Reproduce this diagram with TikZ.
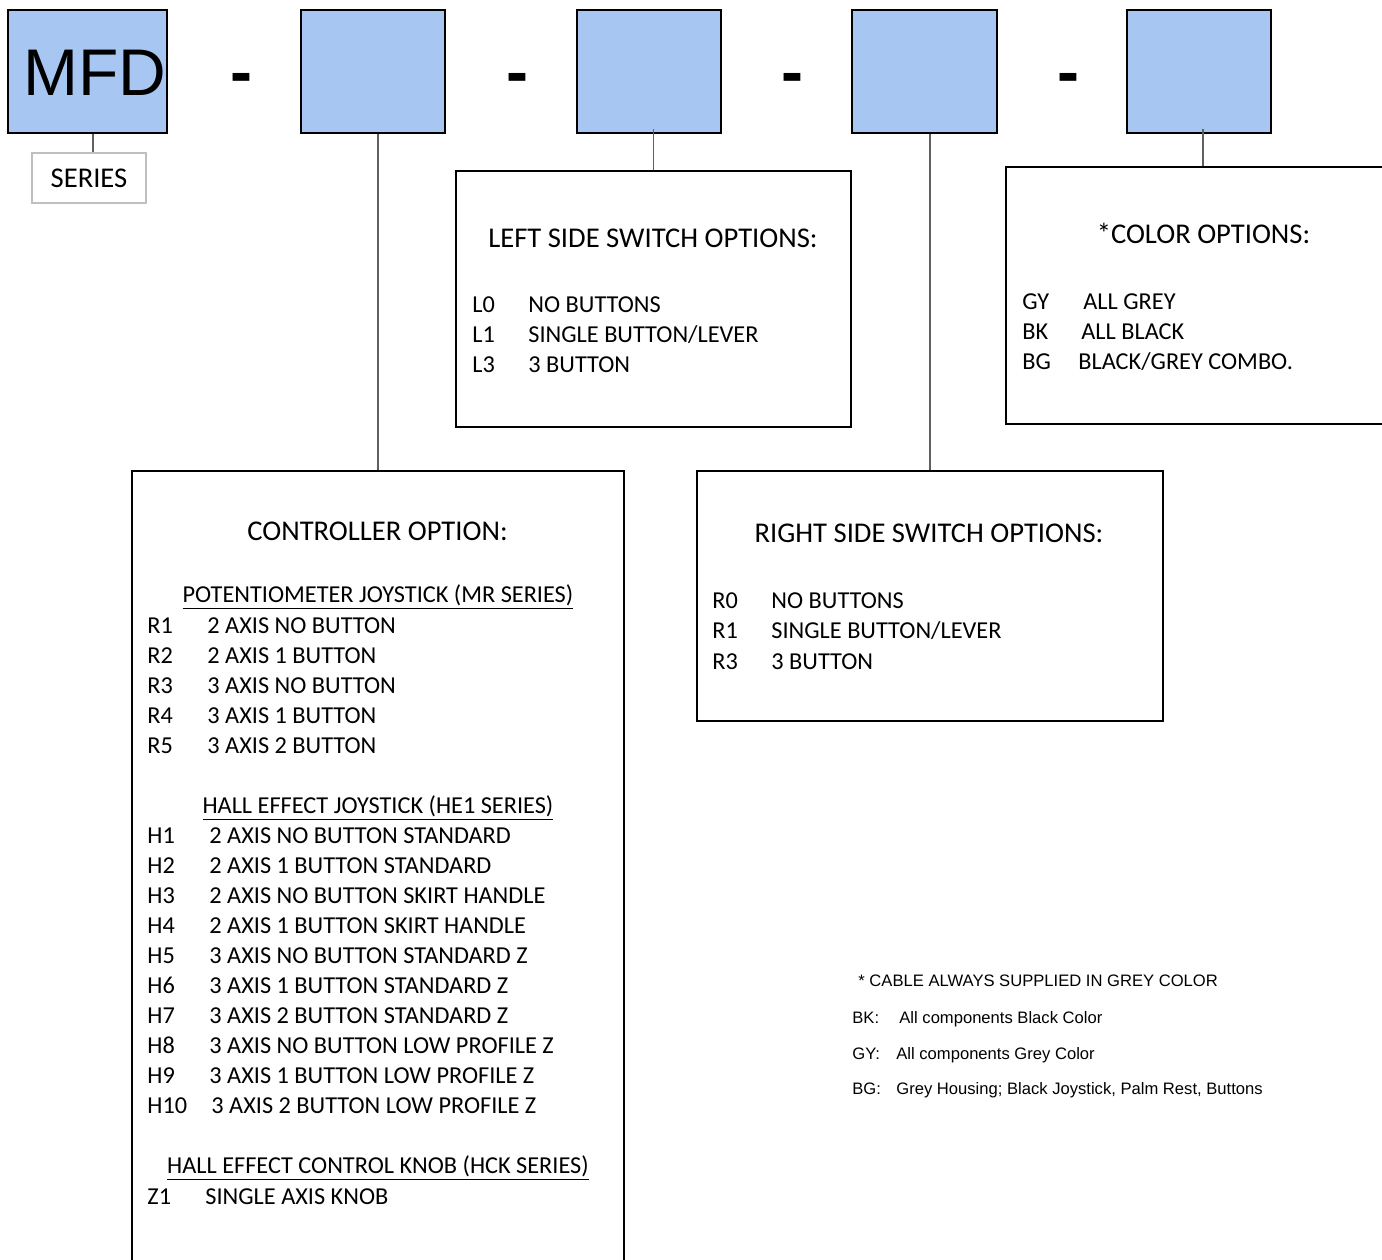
\documentclass[tikz,border=0pt]{standalone}
\usepackage{fontspec}
\setmainfont{Carlito}
\newfontfamily\arialfont{Liberation Sans}
\usetikzlibrary{calc}
\definecolor{boxblue}{RGB}{168,198,242}
\definecolor{linegrey}{RGB}{96,96,96}
\definecolor{seriesgrey}{RGB}{191,191,191}
\tikzset{
  partbox/.style={draw=black, line width=1pt, fill=boxblue, inner sep=0pt, minimum width=72pt, minimum height=61.5pt},
  optbox/.style={draw=black, line width=0.75pt, inner sep=0pt},
  link/.style={draw=linegrey, line width=0.75pt},
  boxhead/.style={font=\fontsize{14.3}{17}\selectfont, anchor=base, inner sep=0pt},
  subhead/.style={font=\fontsize{12.15}{14}\selectfont, anchor=base, inner sep=0pt},
  optline/.style={font=\fontsize{12.15}{14}\selectfont, anchor=base west, inner sep=0pt},
  dashsign/.style={font=\arialfont\bfseries\fontsize{33}{40}\selectfont, anchor=base, inner sep=0pt},
  cablenote/.style={font=\arialfont\fontsize{8.3}{10}\selectfont, anchor=base west, inner sep=0pt}
}
\begin{document}
\begin{tikzpicture}[x=0.5pt, y=-0.5pt]
  \useasboundingbox (0,0) rectangle (1382,1259);

  \node[partbox, minimum width=79.5pt] (mfd) at (87.5,71.5) {};
  \node[partbox] (b2) at (373,71.5) {};
  \node[partbox] (b3) at (649,71.5) {};
  \node[partbox, minimum width=72.5pt] (b4) at (924.5,71.5) {};
  \node[partbox] (b5) at (1199,71.5) {};
  \node[font=\arialfont\fontsize{33}{40}\selectfont, anchor=base west, inner sep=0pt] (mfdtext) at (23,95) {MFD};

  \foreach \x [count=\i] in {241,517,792,1068}
    \node[dashsign] (dash\i) at (\x,94) {-};

  \node[draw=seriesgrey, line width=0.75pt, inner sep=0pt, minimum width=57pt, minimum height=25pt,
        font=\fontsize{14.3}{17}\selectfont] (series) at (89,178) {SERIES};

  \node[optbox, minimum width=197.5pt, minimum height=128pt] (lbox) at (653.5,299) {};
  \node[optbox, minimum width=197pt, minimum height=128.5pt] (cbox) at (1203,295.5) {};
  \node[optbox, minimum width=246pt, minimum height=409.5pt] (ctl) at (378,880.5) {};
  \node[optbox, minimum width=233pt, minimum height=125pt] (rbox) at (930,596) {};

  \draw[link] ([xshift=2pt]series.north) -- ([xshift=2pt]series.north |- mfd.south);
  \draw[link] (ctl.north) -- (ctl.north |- b2.south);
  \draw[link] (lbox.north) -- ($(lbox.north |- b3.south)+(0,-5)$);
  \draw[link] (rbox.north) -- (rbox.north |- b4.south);
  \draw[link] (cbox.north) -- ($(cbox.north |- b5.south)+(0,-5)$);

  \node[boxhead] (lhead) at (653,247) {LEFT SIDE SWITCH OPTIONS:};
  \foreach \code/\desc [count=\i] in {L0/NO BUTTONS, L1/{SINGLE BUTTON/LEVER}, L3/3 BUTTON} {
    \node[optline] (lcode\i) at (472,{312+30*(\i-1)}) {\code};
    \node[optline] (ldesc\i) at (528,{312+30*(\i-1)}) {\desc};
  }

  \node[boxhead] (chead) at (1203.5,243) {*COLOR OPTIONS:};
  \foreach \code/\desc/\dx [count=\i] in {GY/ALL GREY/1083, BK/ALL BLACK/1081, BG/{BLACK/GREY COMBO.}/1078} {
    \node[optline] (ccode\i) at (1022,{309+30*(\i-1)}) {\code};
    \node[optline] (cdesc\i) at (\dx,{309+30*(\i-1)}) {\desc};
  }

  \node[boxhead] (rhead) at (929,542) {RIGHT SIDE SWITCH OPTIONS:};
  \foreach \code/\desc [count=\i] in {R0/NO BUTTONS, R1/{SINGLE BUTTON/LEVER}, R3/3 BUTTON} {
    \node[optline] (rcode\i) at (712,{608+30.5*(\i-1)}) {\code};
    \node[optline] (rdesc\i) at (771,{608+30.5*(\i-1)}) {\desc};
  }

  \node[boxhead] (ctlhead) at (377.5,540) {CONTROLLER OPTION:};
  \node[subhead] (pot) at (378,602) {\underline{POTENTIOMETER JOYSTICK (MR SERIES)}};
  \foreach \code/\desc [count=\i] in {R1/2 AXIS NO BUTTON, R2/2 AXIS 1 BUTTON, R3/3 AXIS NO BUTTON,
                                      R4/3 AXIS 1 BUTTON, R5/3 AXIS 2 BUTTON} {
    \node[optline] (pcode\i) at (147,{633+30*(\i-1)}) {\code};
    \node[optline] (pdesc\i) at (207,{633+30*(\i-1)}) {\desc};
  }

  \node[subhead] (hall) at (378,813) {\underline{HALL EFFECT JOYSTICK (HE1 SERIES)}};
  \foreach \code/\desc/\dx [count=\i] in {H1/2 AXIS NO BUTTON STANDARD/209, H2/2 AXIS 1 BUTTON STANDARD/209,
                                          H3/2 AXIS NO BUTTON SKIRT HANDLE/209, H4/2 AXIS 1 BUTTON SKIRT HANDLE/209,
                                          H5/3 AXIS NO BUTTON STANDARD Z/209, H6/3 AXIS 1 BUTTON STANDARD Z/209,
                                          H7/3 AXIS 2 BUTTON STANDARD Z/209, H8/3 AXIS NO BUTTON LOW PROFILE Z/209,
                                          H9/3 AXIS 1 BUTTON LOW PROFILE Z/209, H10/3 AXIS 2 BUTTON LOW PROFILE Z/211} {
    \node[optline] (hcode\i) at (147,{843+30.1*(\i-1)}) {\code};
    \node[optline] (hdesc\i) at (\dx,{843+30.1*(\i-1)}) {\desc};
  }

  \node[subhead] (knob) at (378,1173) {\underline{HALL EFFECT CONTROL KNOB (HCK SERIES)}};
  \node[optline] (zcode1) at (147,1204) {Z1};
  \node[optline] (zdesc1) at (205,1204) {SINGLE AXIS KNOB};

  \node[cablenote] (note1) at (858,986) {* CABLE ALWAYS SUPPLIED IN GREY COLOR};
  \node[cablenote] (note2) at (852,1023) {BK:};
  \node[cablenote] (note2t) at (899,1023) {All components Black Color};
  \node[cablenote] (note3) at (852,1059) {GY:};
  \node[cablenote] (note3t) at (896,1059) {All components Grey Color};
  \node[cablenote] (note4) at (852,1094) {BG:};
  \node[cablenote] (note4t) at (896,1094) {Grey Housing; Black Joystick, Palm Rest, Buttons};
\end{tikzpicture}
\end{document}
